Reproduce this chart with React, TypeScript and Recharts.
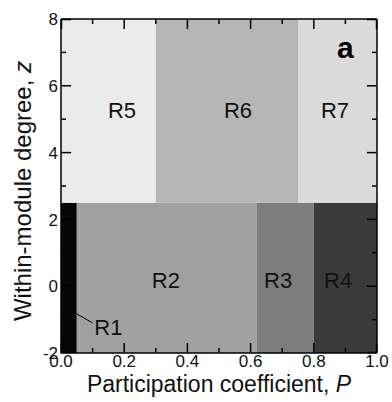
import {
  ComposedChart,
  XAxis,
  YAxis,
  Scatter,
  ReferenceArea,
  ReferenceLine,
} from "recharts";

// role regions in the (P, z) plane
const regionNames = ["R1", "R2", "R3", "R4", "R5", "R6", "R7"];
const regionP0 = [0.0, 0.05, 0.62, 0.8, 0.0, 0.3, 0.75];
const regionP1 = [0.05, 0.62, 0.8, 1.0, 0.3, 0.75, 1.0];
const regionZ0 = [-2, -2, -2, -2, 2.5, 2.5, 2.5];
const regionZ1 = [2.5, 2.5, 2.5, 2.5, 8, 8, 8];
const regionFills = ["#060606", "#a1a1a1", "#7c7c7c", "#3a3a3a", "#ebebeb", "#b6b6b6", "#dbdbdb"];

// where each region name is written
const labelP = [0.15, 0.332, 0.687, 0.877, 0.193, 0.56, 0.867];
const labelZ = [-1.22, 0.19, 0.19, 0.19, 5.28, 5.28, 5.28];

const r1Leader = [
  { x: 0.05, y: -0.83 },
  { x: 0.1, y: -1.1 },
];

const panelLetter = [{ x: 0.9, y: 7.15, name: "a" }];

const xTicks = [0, 0.1, 0.2, 0.3, 0.4, 0.5, 0.6, 0.7, 0.8, 0.9, 1.0];
const yTicks = [-2, -1, 0, 1, 2, 3, 4, 5, 6, 7, 8];

const labelPoints = regionNames.map((name, i) => ({ x: labelP[i], y: labelZ[i], name }));

const FONT = "'Liberation Sans', Arial, Helvetica, sans-serif";

function isMajorX(v: number) {
  return Math.round(v * 10) % 2 === 0;
}
function isMajorY(v: number) {
  return Math.round(v) % 2 === 0;
}

// inward tick length, in axis units (about 10px major, 5px minor)
const P_LEN = [0.016, 0.032];
const Z_LEN = [0.15, 0.3];
const P_EPS = 0.0015;
const Z_EPS = 0.015;

// tick segments, built once from the tick lists
const tickSegs: { x: number; y: number }[][] = [];
xTicks.forEach((v) => {
  const l = Z_LEN[isMajorX(v) ? 1 : 0];
  const px = Math.min(Math.max(v, P_EPS), 1 - P_EPS);
  tickSegs.push([{ x: px, y: -2 + Z_EPS }, { x: px, y: -2 + l }]);
  tickSegs.push([{ x: px, y: 8 - Z_EPS }, { x: px, y: 8 - l }]);
});
yTicks.forEach((v) => {
  const l = P_LEN[isMajorY(v) ? 1 : 0];
  const pz = Math.min(Math.max(v, -2 + Z_EPS), 8 - Z_EPS);
  tickSegs.push([{ x: P_EPS, y: pz }, { x: l, y: pz }]);
  tickSegs.push([{ x: 1 - P_EPS, y: pz }, { x: 1 - l, y: pz }]);
});

const BottomTick = (props: any) => {
  const { x, y, payload } = props;
  const v = payload.value as number;
  if (!isMajorX(v)) return <g />;
  return (
    <text x={x} y={y + 14} textAnchor="middle" fontSize={17} fontFamily={FONT} fill="#111">
      {v.toFixed(1)}
    </text>
  );
};

const LeftTick = (props: any) => {
  const { x, y, payload } = props;
  const v = payload.value as number;
  if (!isMajorY(v)) return <g />;
  return (
    <text x={x - 3} y={y} dy="0.36em" textAnchor="end" fontSize={17} fontFamily={FONT} fill="#111">
      {v}
    </text>
  );
};

const RegionLabel = (props: any) => {
  const { cx, cy, payload } = props;
  return (
    <text x={cx} y={cy} dy="0.36em" textAnchor="middle" fontSize={22} fontFamily={FONT} fill="#111">
      {payload.name}
    </text>
  );
};

const PanelLetter = (props: any) => {
  const { cx, cy, payload } = props;
  return (
    <text x={cx} y={cy} dy="0.36em" textAnchor="middle" fontSize={30} fontWeight="bold" fontFamily={FONT} fill="#000">
      {payload.name}
    </text>
  );
};

const axisLine = { stroke: "#000", strokeWidth: 1.5 };

export default function App() {
  return (
    <div style={{ position: "absolute", left: 0, top: 0, background: "#fff" }}>
      <ComposedChart width={392} height={402} margin={{ top: 18, right: 14, bottom: 48, left: 60 }}>
        <XAxis
          xAxisId="b"
          type="number"
          dataKey="x"
          domain={[0, 1]}
          ticks={xTicks}
          interval={0}
          tickSize={0}
          tickMargin={0}
          height={1}
          axisLine={axisLine}
          tickLine={false}
          tick={BottomTick}
          label={{
            content: (p: any) => {
              const vb = p.viewBox;
              return (
                <text x={vb.x + vb.width / 2} y={vb.y + 39} textAnchor="middle" fontSize={23} fontFamily={FONT} fill="#111">
                  Participation coefficient, <tspan fontStyle="italic">P</tspan>
                </text>
              );
            },
          }}
        />
        <XAxis
          xAxisId="t"
          orientation="top"
          type="number"
          dataKey="x"
          domain={[0, 1]}
          ticks={xTicks}
          tickSize={0}
          height={1}
          axisLine={axisLine}
          tickLine={false}
          tick={false}
        />
        <YAxis
          yAxisId="l"
          type="number"
          dataKey="y"
          domain={[-2, 8]}
          ticks={yTicks}
          interval={0}
          tickSize={0}
          tickMargin={0}
          width={1}
          axisLine={axisLine}
          tickLine={false}
          tick={LeftTick}
          label={{
            content: (p: any) => {
              const vb = p.viewBox;
              const cy = vb.y + vb.height / 2 + 5;
              return (
                <text
                  x={31}
                  y={cy}
                  transform={`rotate(-90 31 ${cy})`}
                  textAnchor="middle"
                  fontSize={24}
                  fontFamily={FONT}
                  fill="#111"
                >
                  Within-module degree, <tspan fontStyle="italic">z</tspan>
                </text>
              );
            },
          }}
        />
        <YAxis
          yAxisId="r"
          orientation="right"
          type="number"
          dataKey="y"
          domain={[-2, 8]}
          ticks={yTicks}
          tickSize={0}
          width={1}
          axisLine={axisLine}
          tickLine={false}
          tick={false}
        />
        {regionNames.map((name, i) => (
          <ReferenceArea
            key={name}
            xAxisId="b"
            yAxisId="l"
            x1={regionP0[i]}
            x2={regionP1[i]}
            y1={regionZ0[i]}
            y2={regionZ1[i]}
            fill={regionFills[i]}
            fillOpacity={1}
            stroke="none"
          />
        ))}
        <ReferenceLine
          xAxisId="b"
          yAxisId="l"
          segment={r1Leader}
          stroke="#000"
          strokeWidth={1}
        />
        <Scatter
          xAxisId="b"
          yAxisId="l"
          data={labelPoints}
          shape={RegionLabel}
          isAnimationActive={false}
        />
        <Scatter
          xAxisId="b"
          yAxisId="l"
          data={panelLetter}
          shape={PanelLetter}
          isAnimationActive={false}
        />
        {tickSegs.map((seg, i) => (
          <ReferenceLine
            key={`tk${i}`}
            xAxisId="b"
            yAxisId="l"
            segment={seg}
            ifOverflow="visible"
            stroke="#000"
            strokeWidth={1.5}
          />
        ))}
      </ComposedChart>
    </div>
  );
}
